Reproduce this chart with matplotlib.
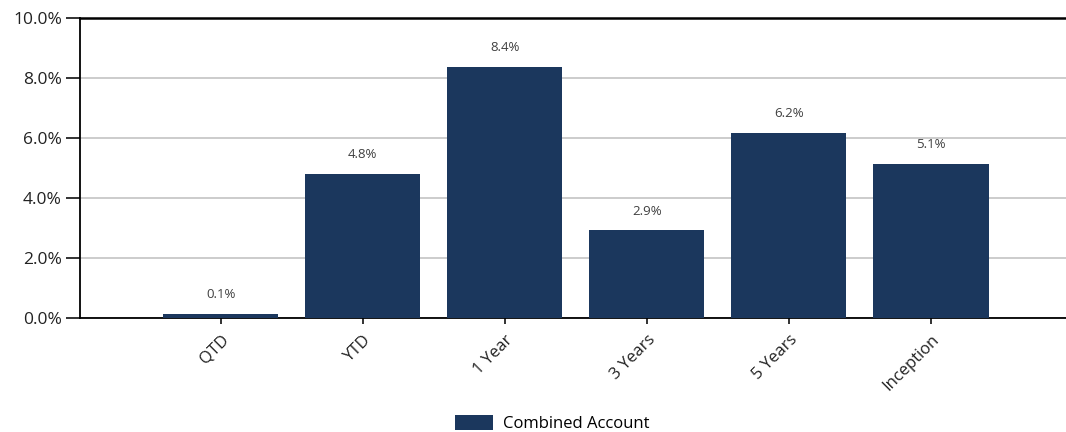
import matplotlib.pyplot as plt
from matplotlib.ticker import FuncFormatter

plt.rcParams['font.family'] = ['Open Sans', 'DejaVu Sans']

periods = ['QTD', 'YTD', '1 Year', '3 Years', '5 Years', 'Inception']
returns = [0.15, 4.8, 8.37, 2.92, 6.17, 5.13]
labels = ['0.1%', '4.8%', '8.4%', '2.9%', '6.2%', '5.1%']
y_ticks = [0, 2, 4, 6, 8, 10]

bar_color = '#1b375d'

fig = plt.figure(figsize=(10.66, 4.32), dpi=100)
ax = fig.add_axes([80 / 1066, 1 - 318 / 432, 1 - 80 / 1066, 300 / 432])

x = list(range(len(periods)))
bars = ax.bar(x, returns, width=0.81, color=bar_color, label='Combined Account', zorder=3)

# value labels above each bar
for b, txt in zip(bars, labels):
    ax.text(b.get_x() + b.get_width() / 2, b.get_height() + 0.42, txt,
            ha='center', va='bottom', fontsize=9.5, color='#404040')

ax.set_xlim(-0.99, 5.95)
ax.set_ylim(0, 10)
ax.set_yticks(y_ticks)
ax.yaxis.set_major_formatter(FuncFormatter(lambda v, p: '%.1f%%' % v))
ax.set_xticks(x)
ax.set_xticklabels(periods, rotation=45, ha='right', rotation_mode='anchor')

ax.grid(axis='y', color='#c8c8c8', linewidth=1.3, zorder=0)
ax.spines['right'].set_visible(False)
for s in ['left', 'bottom', 'top']:
    ax.spines[s].set_color('black')
    ax.spines[s].set_linewidth(1.3)
ax.spines['top'].set_linewidth(1.8)

ax.tick_params(axis='y', length=10, width=1.3, labelsize=12.5, colors='#222222', pad=3)
ax.tick_params(axis='x', length=4, width=1.3, labelsize=12, colors='#222222', pad=6)

fig.legend(handles=[bars], labels=['Combined Account'], loc='lower center',
           bbox_to_anchor=(0.518, -0.035), frameon=False, fontsize=12,
           handlelength=2.3, handleheight=1.0, handletextpad=0.6)

fig.savefig('out.png', dpi=100)
